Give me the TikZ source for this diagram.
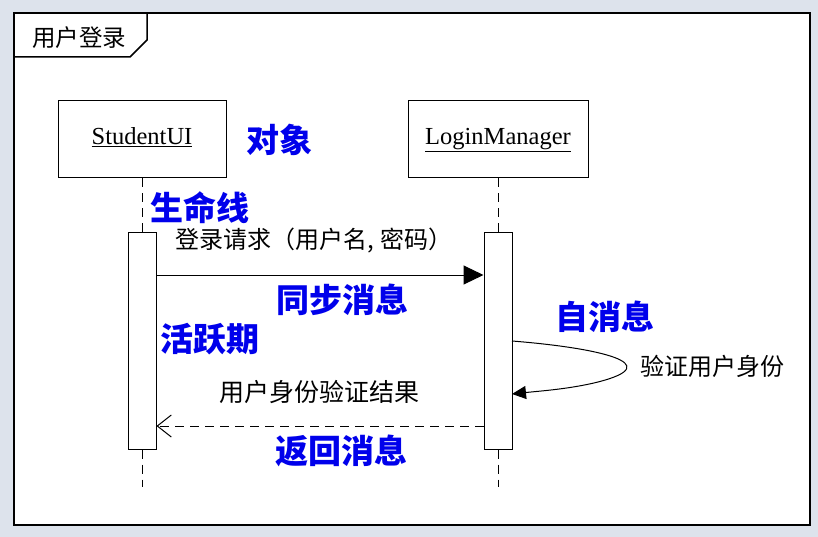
\documentclass[tikz,border=0pt]{standalone}
\usepackage{fontspec}
\setmainfont{Liberation Serif}
\newfontfamily\cjk{Noto Sans CJK SC}
\newfontfamily\cjkb{Noto Sans CJK SC Black}
\usetikzlibrary{arrows.meta}
\definecolor{bgc}{RGB}{221,227,236}
\definecolor{lblue}{RGB}{0,0,235}
\tikzset{
  objbox/.style={draw, line width=1pt, minimum width=168pt, minimum height=77pt, inner sep=0pt, text height=17pt, text depth=6pt},
  actbox/.style={draw, line width=1pt, fill=white, minimum width=28pt, minimum height=217pt, inner sep=0pt},
  lifeline/.style={line width=1pt, dash pattern=on 9pt off 6pt},
  msgtext/.style={font=\cjk\fontsize{24}{26}\selectfont, inner sep=0pt},
  notetext/.style={font=\cjkb\fontsize{33}{36}\selectfont, text=lblue, inner sep=0pt},
}
\begin{document}
\begin{tikzpicture}[x=1pt,y=-1pt]
\useasboundingbox (0,0) rectangle (818,537);
\fill[bgc] (0,0) rectangle (818,537);
\draw[line width=2pt, fill=white] (14,13) rectangle (810,525);
% tab
\draw[line width=1.5pt] (14,57) -- (130,57) -- (147,40) -- (147,13);
\node[font=\cjk\fontsize{23.5}{25}\selectfont, inner sep=0pt] (title) at (79,38) {用户登录};
% objects
\node[objbox] (sui) at (142,139.5) {\fontsize{24.5}{26}\selectfont\underline{StudentUI}};
\node[objbox, minimum width=180pt] (lm) at (498,139.5) {\fontsize{24.5}{26}\selectfont\underline{LoginManager}};
% activations
\node[actbox] (a1) at (142,340.5) {};
\node[actbox] (a2) at (498,340.5) {};
% lifelines
\coordinate (e1) at (142,487);
\coordinate (e2) at (498,487);
\draw[lifeline] (sui.south) -- (a1.north);
\draw[lifeline] (lm.south) -- (a2.north);
\draw[lifeline] (a1.south) -- (e1);
\draw[lifeline] (a2.south) -- (e2);
% sync message
\draw[line width=1pt, -{Triangle[length=20pt,width=19pt]}] (a1.east |- 0,275) -- (a2.west |- 0,275);
\node[msgtext] (m1) at (314,241) {登录请求（用户名, 密码）};
% self message
\coordinate (s1) at (512,341);
\coordinate (s2) at (512,394);
\draw[line width=1pt, -{Triangle[length=14pt,width=13pt]}] (s1) .. controls (600,348) and (668,364) .. (598,382) .. controls (570,389) and (540,391) .. (s2);
\node[msgtext, anchor=west] (m2) at (640,366) {验证用户身份};
% return message
\draw[line width=1pt, dash pattern=on 9pt off 6pt, -{Straight Barb[length=14pt,width=22pt,line width=1pt]}] (a2.west |- 0,426) -- (a1.east |- 0,426);
\node[msgtext, font=\cjk\fontsize{25}{27}\selectfont] (m3) at (319,392) {用户身份验证结果};
% annotations
\node[notetext] (n1) at (279,140) {对象};
\node[notetext] (n2) at (200,208) {生命线};
\node[notetext] (n3) at (342,300) {同步消息};
\node[notetext] (n4) at (605,317) {自消息};
\node[notetext] (n5) at (210,339) {活跃期};
\node[notetext] (n6) at (341,451) {返回消息};
\end{tikzpicture}
\end{document}
